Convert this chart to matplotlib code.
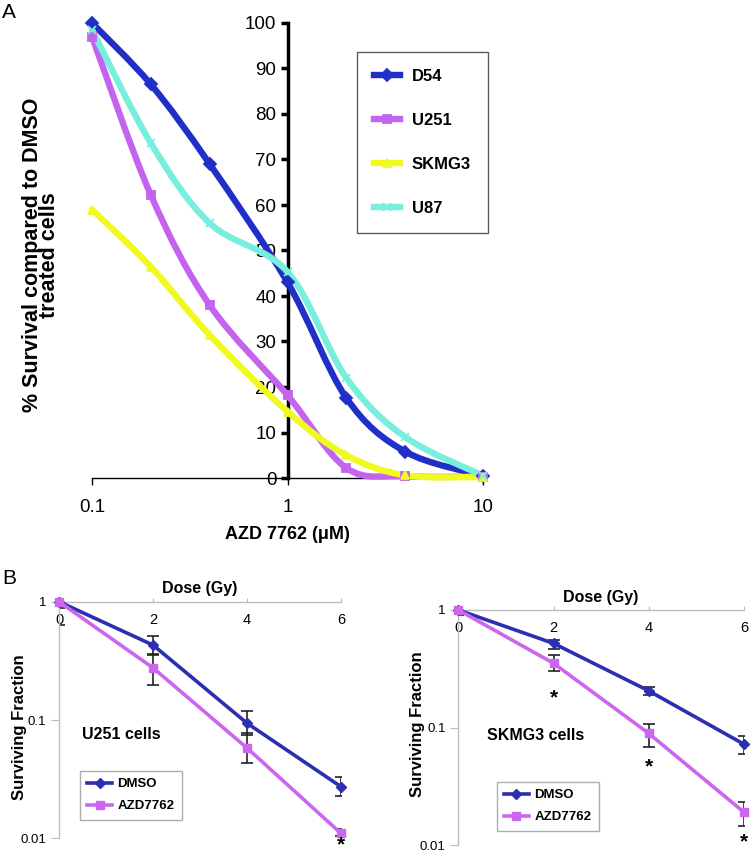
import numpy as np
import matplotlib
matplotlib.use("Agg")
import matplotlib.pyplot as plt
from matplotlib.path import Path
from matplotlib.patches import PathPatch
from matplotlib.lines import Line2D

# ---------------- data ----------------
doses_A = [0.1, 0.2, 0.4, 1, 2, 4, 10]
d54 = [100, 86.5, 69, 43, 17.6, 5.8, 0.5]
u251 = [97, 62.2, 38, 18.2, 2.2, 0.4, 0.3]
skmg3 = [59, 46.4, 31.4, 14.6, 5.0, 0.6, 0.2]
u87 = [98.5, 73.6, 56, 45.3, 22, 9, 0.5]
series_A = ["D54", "U251", "SKMG3", "U87"]
yticks_A = [0, 10, 20, 30, 40, 50, 60, 70, 80, 90, 100]
xticks_A = [0.1, 1, 10]
xticklabels_A = ["0.1", "1", "10"]

dose_B = [0, 2, 4, 6]
u251_dmso = [1.0, 0.43, 0.094, 0.0273]
u251_dmso_lo = [0.885, 0.355, 0.0746, 0.0228]
u251_dmso_hi = [1.0, 0.516, 0.12, 0.0327]
u251_azd = [1.0, 0.276, 0.058, 0.011]
u251_azd_lo = [0.635, 0.198, 0.0435, 0.0105]
u251_azd_hi = [1.0, 0.36, 0.077, 0.0121]

sk_dmso = [1.0, 0.52, 0.205, 0.072]
sk_dmso_lo = [0.9, 0.47, 0.19, 0.06]
sk_dmso_hi = [1.0, 0.56, 0.22, 0.085]
sk_azd = [1.0, 0.352, 0.089, 0.019]
sk_azd_lo = [0.92, 0.30, 0.068, 0.0145]
sk_azd_hi = [1.0, 0.41, 0.107, 0.023]
stars_u251 = [6]
stars_sk = [2, 4, 6]
yticks_B = [0.01, 0.1, 1]
yticklabels_B = ["0.01", "0.1", "1"]
xticks_B = [0, 2, 4, 6]

# ---------------- styles ----------------
W, H = 750, 855
fig = plt.figure(figsize=(7.5, 8.55), dpi=100)

def fx(px):
    return px / W

def fy(py):
    return 1 - py / H

SANS = ["Liberation Sans", "DejaVu Sans"]

colors_A = ["#1f2fc8", "#c464ee", "#f0fa20", "#78eedd"]
markers_A = ["D", "s", "^", "x"]
values_A = [d54, u251, skmg3, u87]

# ---------------- panel A ----------------
axA = fig.add_axes([fx(92), fy(478), fx(483) - fx(92), fy(23) - fy(478)])
axA.set_xscale("log")
axA.set_xlim(0.1, 10)
axA.set_ylim(0, 100)


def smooth_path(xs, ys):
    lx = np.log10(np.asarray(xs, float))
    yy = np.asarray(ys, float)
    pts = np.column_stack([lx, yy])
    n = len(pts)
    verts = [pts[0]]
    codes = [Path.MOVETO]
    for i in range(n - 1):
        p0 = pts[i - 1] if i > 0 else pts[i]
        p1 = pts[i]
        p2 = pts[i + 1]
        p3 = pts[i + 2] if i + 2 < n else pts[i + 1]
        c1 = p1 + (p2 - p0) / 6.0
        c2 = p2 - (p3 - p1) / 6.0
        verts += [c1, c2, p2]
        codes += [Path.CURVE4] * 3
    verts = np.array(verts)
    verts[:, 0] = 10 ** verts[:, 0]
    return Path(verts, codes)


for name, vals, c, m in zip(series_A, values_A, colors_A, markers_A):
    patch = PathPatch(smooth_path(doses_A, vals), facecolor="none", edgecolor=c,
                      lw=4.6, capstyle="round", joinstyle="round", clip_on=False, zorder=3)
    axA.add_patch(patch)
    axA.plot(doses_A, vals, linestyle="none", marker=m, color=c, markersize=6,
             markeredgewidth=1.3, clip_on=False, zorder=4)

for s in ["top", "right"]:
    axA.spines[s].set_visible(False)
axA.spines["left"].set_position(("data", 1))
axA.spines["left"].set_linewidth(2.5)
axA.spines["bottom"].set_linewidth(1.0)
axA.set_yticks(yticks_A)
axA.set_yticklabels([str(v) for v in yticks_A], fontsize=13.5, family=SANS)
axA.tick_params(axis="y", length=5, width=2.5, pad=3)
axA.set_xticks(xticks_A)
axA.set_xticklabels(xticklabels_A, fontsize=13.5, family=SANS)
axA.xaxis.set_minor_locator(matplotlib.ticker.NullLocator())
axA.tick_params(axis="x", length=5, width=1, pad=10)
axA.set_xlabel("AZD 7762 (\u03bcM)", fontsize=13, fontweight="bold", family=SANS, labelpad=7)

fig.text(fx(41), fy(255), "% Survival compared to DMSO\ntreated cells", rotation=90,
         ha="center", va="center", fontsize=15.5, fontweight="bold", family=SANS,
         multialignment="center", linespacing=0.8)

handles_A = [Line2D([], [], color=c, lw=4.6, marker=m, markersize=6, markeredgewidth=1.3)
             for c, m in zip(colors_A, markers_A)]
legA = fig.legend(handles_A, series_A, loc="upper left", bbox_to_anchor=(fx(357), fy(52)),
                  frameon=True, fancybox=False, edgecolor="#333333",
                  prop={"family": SANS, "weight": "bold", "size": 12},
                  handlelength=1.6, handletextpad=0.7, labelspacing=1.75, borderpad=1.0,
                  borderaxespad=0)
legA.get_frame().set_linewidth(1.0)

fig.text(fx(2), fy(12), "A", fontsize=15, family=SANS, ha="left", va="center")
fig.text(fx(2), fy(578), "B", fontsize=15, family=SANS, ha="left", va="center")

# ---------------- panel B ----------------
c_dmso = "#2b2fb0"
c_azd = "#cc66ee"
grey = "#bdbdbd"


def panel_B(rect, dmso, dlo, dhi, azd, alo, ahi, stars, star_off, title, title_xy,
            ylab_xy, leg_anchor):
    ax = fig.add_axes(rect)
    ax.set_yscale("log")
    ax.set_xlim(0, 6)
    ax.set_ylim(0.01, 1)
    d = np.array(dmso); a = np.array(azd)
    ax.errorbar(dose_B, dmso, yerr=[d - np.array(dlo), np.array(dhi) - d], fmt="none",
                ecolor="#222222", elinewidth=1.2, capsize=4, capthick=1.2, zorder=2)
    ax.errorbar(dose_B, azd, yerr=[a - np.array(alo), np.array(ahi) - a], fmt="none",
                ecolor="#222222", elinewidth=1.2, capsize=4, capthick=1.2, zorder=2)
    ax.plot(dose_B, dmso, color=c_dmso, lw=2.6, marker="D", markersize=5.5, zorder=3, clip_on=False)
    ax.plot(dose_B, azd, color=c_azd, lw=2.6, marker="s", markersize=6, zorder=3, clip_on=False)
    for s in ["bottom", "right"]:
        ax.spines[s].set_visible(False)
    for s in ["left", "top"]:
        ax.spines[s].set_color(grey)
        ax.spines[s].set_linewidth(1.0)
    ax.set_yticks(yticks_B)
    ax.set_yticklabels(yticklabels_B, fontsize=9.5, family=SANS)
    ax.yaxis.set_minor_locator(matplotlib.ticker.NullLocator())
    ax.tick_params(axis="y", length=6, color=grey, pad=3)
    ax.set_xticks(xticks_B)
    ax.set_xticklabels([str(v) for v in xticks_B], fontsize=10.5, family=SANS)
    ax.tick_params(axis="x", top=True, labeltop=True, bottom=False, labelbottom=False,
                   length=3, color=grey, pad=-21)
    ax.xaxis.set_label_position("top")
    ax.set_xlabel("Dose (Gy)", fontsize=11.5, fontweight="bold", family=SANS, labelpad=3)
    fig.text(fx(ylab_xy[0]), fy(ylab_xy[1]), "Surviving Fraction", rotation=90,
             ha="center", va="center", fontsize=12, fontweight="bold", family=SANS)
    for sx, off in zip(stars, star_off):
        yv = azd[dose_B.index(sx)]
        ax.annotate("*", xy=(sx, yv), xytext=(0, off), textcoords="offset points",
                    ha="center", va="center", fontsize=15, fontweight="bold",
                    family=SANS, annotation_clip=False)
    ax.text(title_xy[0], title_xy[1], title, fontsize=11.5, fontweight="bold", family=SANS,
            ha="left", va="center")
    hs = [Line2D([], [], color=c_dmso, lw=2.6, marker="D", markersize=5.5),
          Line2D([], [], color=c_azd, lw=2.6, marker="s", markersize=6)]
    lg = fig.legend(hs, ["DMSO", "AZD7762"], loc="upper left", bbox_to_anchor=leg_anchor,
                    frameon=True, fancybox=False, edgecolor="#999999",
                    prop={"family": SANS, "weight": "bold", "size": 9.5},
                    handlelength=1.9, handletextpad=0.4, labelspacing=0.75, borderpad=0.55,
                    borderaxespad=0)
    lg.get_frame().set_linewidth(1.0)
    return ax


axB1 = panel_B([fx(59), fy(838.3), fx(341) - fx(59), fy(601.7) - fy(838.3)],
               u251_dmso, u251_dmso_lo, u251_dmso_hi, u251_azd, u251_azd_lo, u251_azd_hi,
               stars_u251, [-8], "U251 cells", (0.5, 0.076), (20, 727), (fx(80), fy(770.7)))
axB2 = panel_B([fx(458.3), fy(845), fx(744) - fx(458.3), fy(610) - fy(845)],
               sk_dmso, sk_dmso_lo, sk_dmso_hi, sk_azd, sk_azd_lo, sk_azd_hi,
               stars_sk, [-25, -24, -21], "SKMG3 cells", (0.6, 0.086), (417, 724),
               (fx(496.7), fy(781.7)))

fig.savefig("out.png", dpi=100)
